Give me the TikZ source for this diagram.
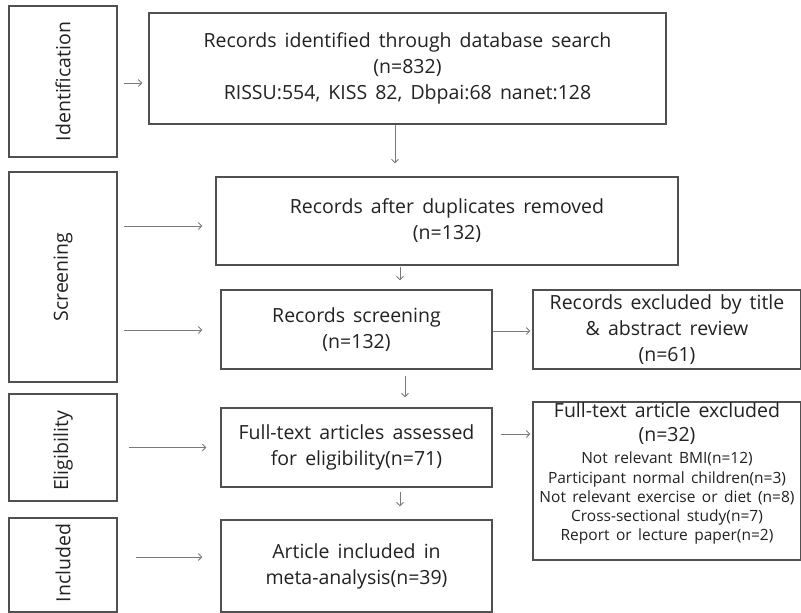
\documentclass[tikz,border=0pt]{standalone}
\usepackage{fontspec}
\setmainfont{Open Sans}[WordSpace=1.6]
\usetikzlibrary{arrows.meta,calc}
\definecolor{boxc}{HTML}{505050}
\definecolor{arrc}{HTML}{7A7A7A}
\definecolor{txtc}{HTML}{222222}
\tikzset{
  big/.style={font=\fontsize{19.5}{26}\selectfont},
  box/.style={draw=boxc, line width=1.1pt, inner sep=0pt, align=center, text=txtc, big},
  side/.style={box, minimum width=108pt},
  vlab/.style={rotate=90, text=txtc, big},
  arr/.style={draw=arrc, line width=0.9pt, -{Straight Barb[length=3.5pt,width=7pt]}},
  small/.style={font=\fontsize{15.5}{19.2}\selectfont}
}
\begin{document}
\begin{tikzpicture}[x=1pt,y=-1pt]
\useasboundingbox[fill=white] (0,0) rectangle (801,613);
% side labels
\node[side, minimum height=151pt] (id) at (63,81.5) {};
\node[vlab] (idt) at (id.center) {Identification};
\node[side, minimum height=210pt] (sc) at (63,277) {};
\node[vlab] (sct) at (sc.center) {Screening};
\node[side, minimum height=107pt] (el) at (63,447.5) {};
\node[vlab] (elt) at (63,451) {Eligibility};
\node[side, minimum height=94pt] (in) at (63,565) {};
\node[vlab] (int) at (63,563) {Included};
% main boxes
\node[box, minimum width=517pt, minimum height=111pt] (b1) at (407.5,68.5)
  {Records identified through database search\\(n=832)\\RISSU:554, KISS 82, Dbpai:68 nanet:128};
\node[box, minimum width=462pt, minimum height=88pt] (b2) at (447,221)
  {Records after duplicates removed\\(n=132)};
\node[box, minimum width=271pt, minimum height=79pt] (b3) at (356.5,329.5)
  {Records screening\\(n=132)};
\node[box, minimum width=271pt, minimum height=79pt] (b4) at (356.5,447.5)
  {Full-text articles assessed\\for eligibility(n=71)};
\node[box, minimum width=271pt, minimum height=92pt] (b5) at (356.5,566)
  {Article included in\\meta-analysis(n=39)};
\node[box, minimum width=268pt, minimum height=79pt] (r1) at (667,329.5)
  {Records excluded by title\\\& abstract review\\(n=61)};
\node[box, minimum width=268pt, minimum height=158pt] (r2) at (667,481) {};
\node[align=center, text=txtc, font=\fontsize{19.5}{24}\selectfont, anchor=north, inner sep=0pt] (r2t) at (667,402)
  {Full-text article excluded\\(n=32)};
\node[align=center, text=txtc, small, anchor=north, inner sep=0pt] (r2s) at (667,452)
  {Not relevant BMI(n=12)\\Participant normal children(n=3)\\Not relevant exercise or diet (n=8)\\Cross-sectional study(n=7)\\Report or lecture paper(n=2)};
% arrows from side labels
\draw[arr, shorten <=6pt, shorten >=6pt] ([yshift=-1.5pt]id.east) -- ([yshift=-1.5pt]id.east -| b1.west);
\draw[arr, shorten <=6pt, shorten >=13pt] ([yshift=-53pt]sc.east) -- ([yshift=-53pt]sc.east -| b2.west);
\draw[arr, shorten <=6pt, shorten >=18pt] ([yshift=51pt]sc.east) -- ([yshift=51pt]sc.east -| b3.west);
\draw[arr, shorten <=11pt, shorten >=14pt] (el.east) -- (el.east -| b4.west);
\draw[arr, shorten <=18pt, shorten >=18pt] ([yshift=8pt]in.east) -- ([yshift=8pt]in.east -| b5.west);
% vertical flow
\draw[arr, shorten >=13pt] ([xshift=-12.5pt]b1.south) -- ([xshift=-12.5pt]b1.south |- b2.north);
\draw[arr, shorten <=1pt, shorten >=9pt] ([xshift=-47pt]b2.south) -- ([xshift=-47pt]b2.south |- b3.north);
\draw[arr, shorten <=6pt, shorten >=10pt] ([xshift=48.5pt]b3.south) -- ([xshift=48.5pt]b3.south |- b4.north);
\draw[arr, shorten <=4pt, shorten >=13pt] ([xshift=43.5pt]b4.south) -- ([xshift=43.5pt]b4.south |- b5.north);
% to exclusion boxes
\draw[arr, shorten >=2pt] ([yshift=-1.5pt]b3.east) -- ([yshift=-1.5pt]b3.east -| r1.west);
\draw[arr, shorten <=8pt, shorten >=2pt] ([yshift=13.5pt]b4.east) -- ([yshift=13.5pt]b4.east -| r2.west);
\end{tikzpicture}
\end{document}
